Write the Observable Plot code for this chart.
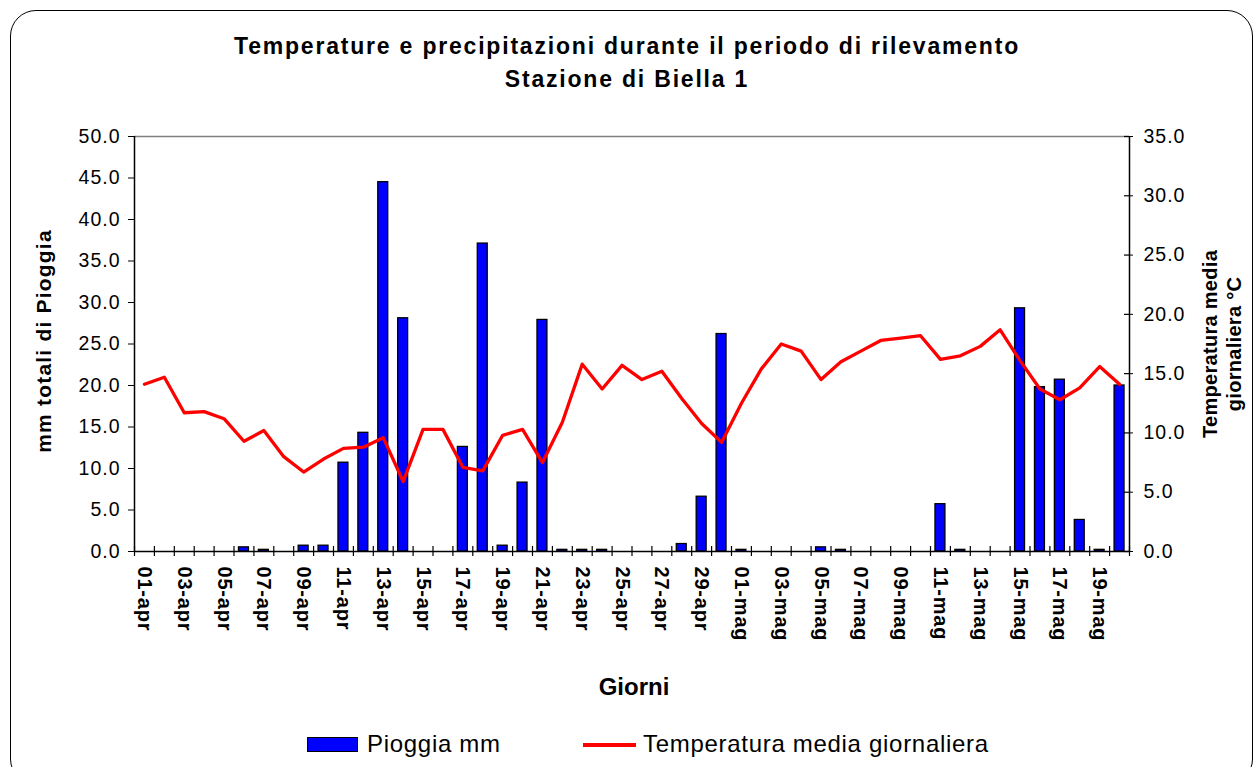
<!DOCTYPE html>
<html>
<head>
<meta charset="utf-8">
<script src="https://cdn.jsdelivr.net/npm/d3@7"></script>
<script src="https://cdn.jsdelivr.net/npm/@observablehq/plot@0.6"></script>
<style>
  html, body { margin: 0; padding: 0; background: #fff; }
  #root { position: relative; width: 1254px; height: 767px; overflow: hidden;
          font-family: "Liberation Sans", Arial, sans-serif; color: #000; }
  #frame { position: absolute; left: 10px; top: 10px; width: 1243px; height: 775px;
           box-sizing: border-box; border: 1.5px solid #000; border-radius: 26px; }
  #title { position: absolute; left: 0; top: 30px; width: 1254px; text-align: center;
           font-weight: bold; font-size: 23px; line-height: 33px; letter-spacing: 1.8px; }
  #chart { position: absolute; left: 0; top: 0; }
  #xtitle { position: absolute; left: 534px; top: 675px; width: 200px; text-align: center;
            font-weight: bold; font-size: 24px; line-height: 24px; }
  .sw-bar { position: absolute; left: 307px; top: 737px; width: 51px; height: 15px;
            box-sizing: border-box; background: #0000ff; border: 1.5px solid #000; }
  .sw-line { position: absolute; left: 583px; top: 743px; width: 53px; height: 3.5px; background: #ff0000; }
  .lg-text { position: absolute; top: 731px; font-size: 24px; line-height: 26px; letter-spacing: 0.7px; white-space: nowrap; }
</style>
</head>
<body>
<div id="root">
  <div id="frame"></div>
  <div id="title">Temperature e precipitazioni durante il periodo di rilevamento<br>Stazione di Biella 1</div>
  <div id="chart"></div>
  <div id="xtitle">Giorni</div>
  <div class="sw-bar"></div>
  <div class="lg-text" style="left:367px">Pioggia mm</div>
  <div class="sw-line"></div>
  <div class="lg-text" style="left:643px">Temperatura media giornaliera</div>
</div>
<script>
// ---- data ----
const days = [
  "01-apr","02-apr","03-apr","04-apr","05-apr","06-apr","07-apr","08-apr","09-apr","10-apr",
  "11-apr","12-apr","13-apr","14-apr","15-apr","16-apr","17-apr","18-apr","19-apr","20-apr",
  "21-apr","22-apr","23-apr","24-apr","25-apr","26-apr","27-apr","28-apr","29-apr","30-apr",
  "01-mag","02-mag","03-mag","04-mag","05-mag","06-mag","07-mag","08-mag","09-mag","10-mag",
  "11-mag","12-mag","13-mag","14-mag","15-mag","16-mag","17-mag","18-mag","19-mag","20-mag"
];
const rain = [
  0, 0, 0, 0, 0, 0.5, 0.2, 0, 0.7, 0.7,
  10.7, 14.3, 44.5, 28.1, 0, 0, 12.6, 37.1, 0.7, 8.3,
  27.9, 0.2, 0.2, 0.2, 0, 0, 0, 0.9, 6.6, 26.2,
  0.2, 0, 0, 0, 0.5, 0.2, 0, 0, 0, 0,
  5.7, 0.2, 0, 0, 29.3, 19.8, 20.7, 3.8, 0.2, 20.0
];
const temp = [
  14.1, 14.7, 11.7, 11.8, 11.2, 9.3, 10.2, 8.0, 6.7, 7.8,
  8.7, 8.8, 9.6, 5.9, 10.3, 10.3, 7.1, 6.8, 9.8, 10.3,
  7.5, 10.9, 15.8, 13.7, 15.7, 14.5, 15.2, 12.9, 10.8, 9.2,
  12.5, 15.4, 17.5, 16.9, 14.5, 16.0, 16.9, 17.8, 18.0, 18.2,
  16.2, 16.5, 17.3, 18.7, 16.1, 13.7, 12.8, 13.8, 15.6, 14.1
];
const rainTicks = [0, 5, 10, 15, 20, 25, 30, 35, 40, 45, 50];
const tempTicks = [0, 5, 10, 15, 20, 25, 30, 35];
const labeledDays = days.filter((d, i) => i % 2 === 0);
const RAIN_MAX = 50, TEMP_MAX = 35;
const toRainUnits = t => t * RAIN_MAX / TEMP_MAX;

// ---- layout ----
const W = 1254, H = 720;
const ML = 134, MR = 125, MT = 136, MB = H - 551;
const plotW = W - ML - MR;
const step = plotW / days.length;

const rows = days.map((d, i) => ({day: d, rain: rain[i], temp: temp[i]}));

const chart = Plot.plot({
  width: W, height: H,
  marginLeft: ML, marginRight: MR, marginTop: MT, marginBottom: MB,
  style: {fontFamily: '"Liberation Sans", Arial, sans-serif', background: "transparent",
          overflow: "visible", color: "#000"},
  x: {domain: days, paddingInner: 0.5, paddingOuter: 0.25, axis: null},
  y: {domain: [0, RAIN_MAX], axis: null},
  marks: [
    Plot.ruleY([RAIN_MAX], {stroke: "#808080", strokeWidth: 1.5}),
    Plot.barY(rows.filter(r => r.rain > 0), {x: "day", y: "rain", fill: "#0000ff", stroke: "#000", strokeWidth: 1.3}),
    Plot.lineY(rows, {x: "day", y: r => toRainUnits(r.temp), stroke: "#ff0000", strokeWidth: 3.3}),
    // axis lines
    Plot.ruleX([days[0]], {dx: -step / 2, stroke: "#000", strokeWidth: 1.5}),
    Plot.ruleX([days[days.length - 1]], {dx: step / 2, stroke: "#000", strokeWidth: 1.5}),
    Plot.ruleY([0], {stroke: "#000", strokeWidth: 1.5}),
    // category boundary ticks crossing the x axis
    Plot.ruleX(days, {dx: -step / 2, y1: -0.6, y2: 0.6, stroke: "#000", strokeWidth: 1.2}),
    Plot.ruleX([days[days.length - 1]], {dx: step / 2, y1: -0.6, y2: 0.6, stroke: "#000", strokeWidth: 1.2}),
    // x tick labels
    Plot.axisX({ticks: labeledDays, tickSize: 0, tickPadding: 15, tickRotate: 90,
                fontWeight: "bold", fontSize: 20, label: null, ariaLabel: "x-ticks"}),
    // left axis
    Plot.axisY({anchor: "left", ticks: rainTicks, tickFormat: d => d.toFixed(1),
                tickSize: 6, tickPadding: 8, fontSize: 19.5, label: null, ariaLabel: "y-left"}),
    // right axis (temperature)
    Plot.axisY({anchor: "right", ticks: tempTicks.map(toRainUnits),
                tickFormat: v => (v * TEMP_MAX / RAIN_MAX).toFixed(1),
                tickSize: 3, tickPadding: 11, fontSize: 19.5, label: null, ariaLabel: "y-right"}),
    Plot.ruleY(tempTicks.map(toRainUnits), {insetLeft: plotW - 5, stroke: "#000", strokeWidth: 1.2}),
    // axis titles
    Plot.text(["mm totali di Pioggia"], {frameAnchor: "left", textAnchor: "middle", rotate: -90, dx: -90, dy: -3,
              fontWeight: "bold", fontSize: 21, fill: "#000"}),
    Plot.text(["Temperatura media\ngiornaliera °C"], {frameAnchor: "right", textAnchor: "middle", rotate: -90, dx: 92,
              lineHeight: 1.2, fontWeight: "bold", fontSize: 20, fill: "#000"})
  ]
});
document.getElementById("chart").appendChild(chart);
// letter spacing tweaks (the reference renders text slightly spaced)
chart.querySelectorAll("text").forEach(t => {
  const s = t.textContent;
  let ls = "1px";
  if (/-(apr|mag)$/.test(s)) ls = "0.8px";
  else if (s.startsWith("mm")) ls = "1.2px";
  else if (s.startsWith("Temperatura")) ls = "0.3px";
  t.style.letterSpacing = ls;
});
</script>
</body>
</html>
